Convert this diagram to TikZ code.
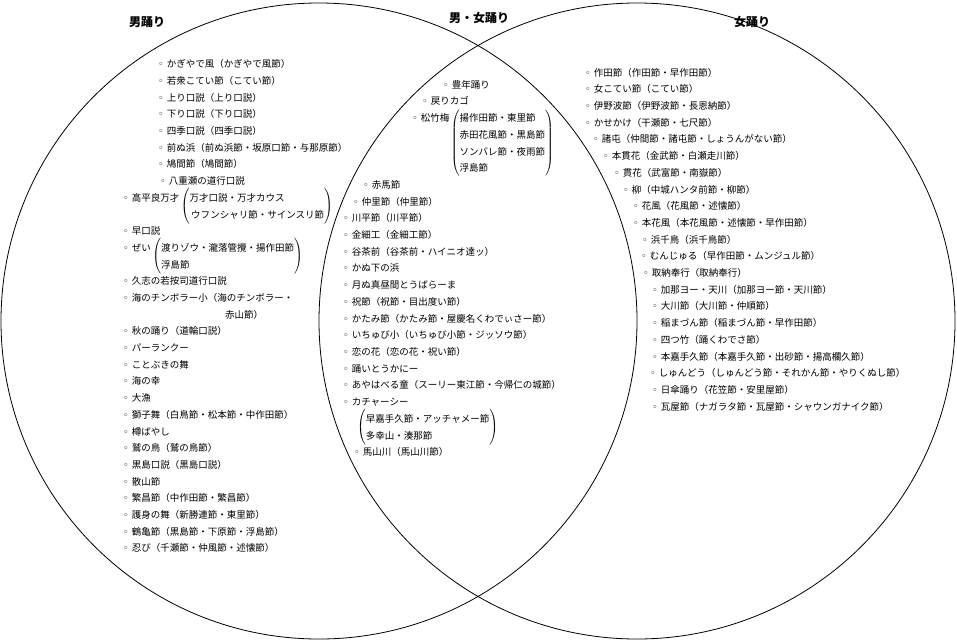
\documentclass[tikz,border=0pt]{standalone}
\usepackage{fontspec}
\setmainfont{Noto Sans CJK JP}
\newfontfamily\ringfont{DejaVu Sans}
\newcommand{\rg}{{\ringfont ◦}\hspace{3pt}}
\newcommand{\brk}[2]{\raisebox{#1}{$\left(\begin{tabular}{@{}l@{}}#2\end{tabular}\right)$}}
\tikzset{
  venn/.style={line width=0.8pt},
  title/.style={inner sep=0pt, font=\fontsize{12}{14}\selectfont\bfseries},
  cont/.style={anchor=base west, inner sep=0pt, font=\fontsize{9.5}{16.7}\selectfont},
  item/.style={cont, execute at begin node=\rg}
}
\begin{document}
\begin{tikzpicture}[x=1pt,y=-1pt]
\useasboundingbox (0,0) rectangle (957,640);
\draw[venn] (319,321) circle[radius=318pt];
\draw[venn] (637,321) circle[radius=318pt];
\node[title] (t1) at (147,22) {男踊り};
\node[title] (t2) at (479,18) {男・女踊り};
\node[title] (t3) at (752,22) {女踊り};
\node[item] (m1) at (158,67.6) {かぎやで風（かぎやで風節）};
\node[item] (m2) at (158,84.3) {若衆こてい節（こてい節）};
\node[item] (m3) at (158,101.0) {上り口説（上り口説）};
\node[item] (m4) at (158,117.7) {下り口説（下り口説）};
\node[item] (m5) at (158,134.4) {四季口説（四季口説）};
\node[item] (m6) at (158,151.1) {前ぬ浜（前ぬ浜節・坂原口節・与那原節）};
\node[item] (m7) at (158,167.8) {鳩間節（鳩間節）};
\node[item] (m8) at (160,184.5) {八重瀬の道行口説};
\node[item] (m9) at (123,201.2) {高平良万才\,\brk{-7.4pt}{万才口説・万才カウス\\\,ウフンシャリ節・サインスリ節}};
\node[item] (m10) at (123,234.6) {早口説};
\node[item] (m11) at (123,251.3) {ぜい\,\brk{-7.4pt}{渡りゾウ・瀧落管攪・揚作田節\\浮島節}};
\node[item] (m12) at (123,284.7) {久志の若按司道行口説};
\node[item] (m13) at (123,301.4) {海のチンボラー小（海のチンボラー・};
\node[cont] (m13b) at (225,318.1) {赤山節）};
\node[item] (m14) at (123,334.8) {秋の踊り（道輪口説）};
\node[item] (m15) at (123,351.5) {パーランクー};
\node[item] (m16) at (123,368.2) {ことぶきの舞};
\node[item] (m17) at (123,384.9) {海の幸};
\node[item] (m18) at (123,401.6) {大漁};
\node[item] (m19) at (123,418.3) {獅子舞（白鳥節・松本節・中作田節）};
\node[item] (m20) at (123,435.0) {樽ばやし};
\node[item] (m21) at (123,451.7) {鷲の鳥（鷲の鳥節）};
\node[item] (m22) at (123,468.4) {黒島口説（黒島口説）};
\node[item] (m23) at (123,485.1) {散山節};
\node[item] (m24) at (123,501.8) {繁昌節（中作田節・繁昌節）};
\node[item] (m25) at (123,518.5) {護身の舞（新勝連節・東里節）};
\node[item] (m26) at (123,535.2) {鶴亀節（黒島節・下原節・浮島節）};
\node[item] (m27) at (123,551.9) {忍び（千瀬節・仲風節・述懐節）};
\node[item] (b1) at (443,88.2) {豊年踊り};
\node[item] (b2) at (422,104.9) {戻りカゴ};
\node[item] (b3) at (412,121.6) {松竹梅\,\brk{-24.1pt}{揚作田節・東里節\\赤田花風節・黒島節\\ソンバレ節・夜雨節\\浮島節}};
\node[item] (b4) at (363,188.4) {赤馬節};
\node[item] (b5) at (353,205.1) {仲里節（仲里節）};
\node[item] (b6) at (343,221.8) {川平節（川平節）};
\node[item] (b7) at (343,238.5) {金細工（金細工節）};
\node[item] (b8) at (343,255.2) {谷茶前（谷茶前・ハイニオ達ッ）};
\node[item] (b9) at (343,271.9) {かぬ下の浜};
\node[item] (b10) at (343,288.6) {月ぬ真昼間とうばらーま};
\node[item] (b11) at (343,305.3) {祝節（祝節・目出度い節）};
\node[item] (b12) at (343,322.0) {かたみ節（かたみ節・屋慶名くわでぃさー節）};
\node[item] (b13) at (343,338.7) {いちゅび小（いちゅび小節・ジッソウ節）};
\node[item] (b14) at (343,355.4) {恋の花（恋の花・祝い節）};
\node[item] (b15) at (343,372.1) {踊いとうかにー};
\node[item] (b16) at (343,388.8) {あやはべる童（スーリー東江節・今帰仁の城節）};
\node[item] (b17) at (343,405.5) {カチャーシー};
\node[cont] (b18) at (357,422.2) {\brk{-7.4pt}{早嘉手久節・アッチャメー節\\多幸山・湊那節}};
\node[item] (b19) at (354,455.6) {馬山川（馬山川節）};
\node[item] (w1) at (585,76.1) {作田節（作田節・早作田節）};
\node[item] (w2) at (585,92.8) {女こてい節（こてい節）};
\node[item] (w3) at (585,109.5) {伊野波節（伊野波節・長恩納節）};
\node[item] (w4) at (585,126.2) {かせかけ（干瀬節・七尺節）};
\node[item] (w5) at (593,142.9) {諸屯（仲間節・諸屯節・しょうんがない節）};
\node[item] (w6) at (603,159.6) {本貫花（金武節・白瀬走川節）};
\node[item] (w7) at (614,176.3) {貫花（武富節・南嶽節）};
\node[item] (w8) at (623,193.0) {柳（中城ハンタ前節・柳節）};
\node[item] (w9) at (633,209.7) {花風（花風節・述懐節）};
\node[item] (w10) at (633,226.4) {本花風（本花風節・述懐節・早作田節）};
\node[item] (w11) at (642,243.1) {浜千鳥（浜千鳥節）};
\node[item] (w12) at (641,259.8) {むんじゅる（早作田節・ムンジュル節）};
\node[item] (w13) at (643,276.5) {取納奉行（取納奉行）};
\node[item] (w14) at (652,293.2) {加那ヨー・天川（加那ヨー節・天川節）};
\node[item] (w15) at (652,309.9) {大川節（大川節・仲順節）};
\node[item] (w16) at (652,326.6) {稲まづん節（稲まづん節・早作田節）};
\node[item] (w17) at (652,343.3) {四つ竹（踊くわでさ節）};
\node[item] (w18) at (652,360.0) {本嘉手久節（本嘉手久節・出砂節・揚高欄久節）};
\node[item] (w19) at (650,376.7) {しゅんどう（しゅんどう節・それかん節・やりくぬし節）};
\node[item] (w20) at (652,393.4) {日傘踊り（花笠節・安里屋節）};
\node[item] (w21) at (652,410.1) {瓦屋節（ナガラタ節・瓦屋節・シャウンガナイク節）};
\end{tikzpicture}
\end{document}
